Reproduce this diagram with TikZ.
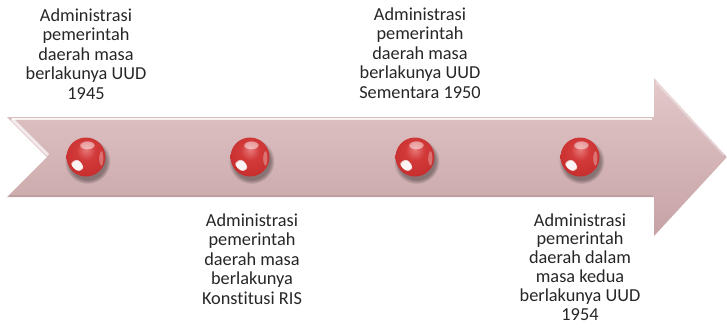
\documentclass[tikz,border=0pt]{standalone}
\usepackage{fontspec}
\setmainfont{Carlito}[Ligatures=NoCommon]
\usetikzlibrary{fadings}
\definecolor{rb1}{HTML}{E87A7A}
\definecolor{rb2}{HTML}{D23A3A}
\definecolor{rb3}{HTML}{C62C2C}
\definecolor{rb4}{HTML}{A81C1C}
\definecolor{rb5}{HTML}{8E1414}
\definecolor{arTop}{HTML}{E3C8CA}
\definecolor{arBot}{HTML}{C6A2A5}
\definecolor{txt}{HTML}{262626}
\pgfdeclareradialshading{redball}{\pgfpoint{0bp}{10bp}}{color(0bp)=(rb1); color(12bp)=(rb2); color(32bp)=(rb3); color(48bp)=(rb4); color(62bp)=(rb5)}
\tikzset{
  lbl/.style={inner sep=0pt, anchor=base, text=txt, font=\fontsize{18.3}{19.5}\selectfont},
  lbls/.style={inner sep=0pt, anchor=base, text=txt, font=\fontsize{18.3}{18.9}\selectfont},
  sphere/.pic={
    \fill[black, opacity=0.35, path fading=circle with fuzzy edge 20 percent] (1.5,4) circle (23);
    \shade[shading=redball] (0,0) circle (19.5);
    \fill[white, opacity=0.95, path fading=circle with fuzzy edge 20 percent, shift={(-9,8)}, rotate=-45] (0,0) ellipse (7.5 and 4.5);
    \fill[white, opacity=0.5, path fading=circle with fuzzy edge 20 percent] (1,-12) ellipse (8 and 4.5);
    \fill[white, opacity=0.3, path fading=circle with fuzzy edge 20 percent] (15,1) ellipse (2.5 and 8);
  }
}
\newcommand{\stk}[1]{\begin{tabular}[t]{@{}c@{}}#1\end{tabular}}
\begin{document}
\begin{tikzpicture}[x=1pt,y=-1pt]
\useasboundingbox (0,0) rectangle (727,327);
% arrow
\shade[top color=arTop, bottom color=arBot]
  (7,117) -- (654,117) -- (654,78) -- (727,157) -- (654,236) -- (654,197) -- (7,197) -- (47,157) -- cycle;
\draw[white, opacity=0.8, line width=2pt] (12,119) -- (652,119);
\draw[white, opacity=0.7, line width=3pt] (12,119) -- (48,155);
\draw[white, opacity=0.35, line width=2pt] (656,82) -- (724,155);
\draw[black, opacity=0.08, line width=1.5pt] (9,196) -- (653,196);
% spheres
\coordinate (b1) at (86,157);
\coordinate (b2) at (250,157);
\coordinate (b3) at (415,157);
\coordinate (b4) at (580,157);
\pic at (b1) {sphere};
\pic at (b2) {sphere};
\pic at (b3) {sphere};
\pic at (b4) {sphere};
% labels
\node[lbl] (t1) at (86,21) {\stk{Administrasi\\pemerintah\\daerah masa\\berlakunya UUD\\1945}};
\node[lbl] (t2) at (252,226) {\stk{Administrasi\\pemerintah\\daerah masa\\berlakunya\\Konstitusi RIS}};
\node[lbl] (t3) at (420,20) {\stk{Administrasi\\pemerintah\\daerah masa\\berlakunya UUD\\Sementara 1950}};
\node[lbls] (t4) at (580,226) {\stk{Administrasi\\pemerintah\\daerah dalam\\masa kedua\\berlakunya UUD\\1954}};
\end{tikzpicture}
\end{document}
